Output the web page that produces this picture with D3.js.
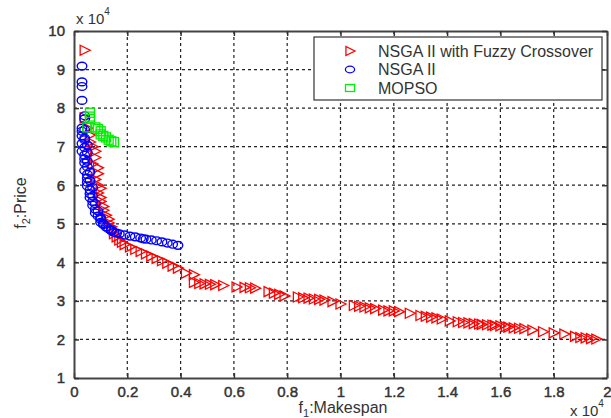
<!DOCTYPE html>
<html><head><meta charset="utf-8">
<script src="https://cdn.jsdelivr.net/npm/d3@7"></script>
<style>
html,body{margin:0;padding:0;background:#fff;}
svg{display:block;font-family:"Liberation Sans",Arial,sans-serif;}
</style></head>
<body><svg id="c" width="611" height="418"></svg>
<script>
// values in units of 10^4
const fuzzyPoints = [
[0.04,9.50],
[0.04,7.75],[0.05,7.48],[0.06,7.30],[0.06,7.12],[0.07,7.00],[0.08,6.88],[0.08,6.72],[0.07,6.55],[0.09,6.45],[0.09,6.30],[0.08,6.15],[0.09,6.00],[0.10,5.92],[0.09,5.80],[0.10,5.68],[0.10,5.58],[0.11,5.45],[0.11,5.35],[0.12,5.22],[0.13,5.12],[0.13,5.02],[0.14,4.92],[0.15,4.82],[0.15,4.74],[0.16,4.66],[0.17,4.58],[0.18,4.52],[0.19,4.46],[0.21,4.40],[0.23,4.34],[0.25,4.28],[0.27,4.22],[0.29,4.16],[0.31,4.10],[0.33,4.04],[0.35,3.98],[0.37,3.90],[0.39,3.85],[0.42,3.72],[0.45,3.68],[0.45,3.48],[0.47,3.45],[0.49,3.44],[0.51,3.43],[0.53,3.42],[0.56,3.40],[0.61,3.36],[0.64,3.35],[0.66,3.34],[0.68,3.33],[0.73,3.24],[0.75,3.20],[0.77,3.17],[0.79,3.13],[0.84,3.10],[0.86,3.08],[0.88,3.07],[0.90,3.05],[0.92,3.04],[0.94,3.02],[0.97,2.98],[1.00,2.92],[1.05,2.88],[1.07,2.86],[1.09,2.84],[1.11,2.82],[1.13,2.80],[1.16,2.76],[1.18,2.74],[1.20,2.74],[1.22,2.72],[1.26,2.68],[1.30,2.62],[1.32,2.60],[1.34,2.58],[1.36,2.56],[1.38,2.53],[1.41,2.48],[1.44,2.46],[1.46,2.44],[1.48,2.43],[1.50,2.41],[1.52,2.40],[1.53,2.39],[1.55,2.38],[1.57,2.37],[1.58,2.36],[1.60,2.35],[1.62,2.33],[1.63,2.32],[1.65,2.30],[1.67,2.29],[1.69,2.28],[1.72,2.24],[1.76,2.20],[1.80,2.17],[1.84,2.14],[1.88,2.08],[1.90,2.05],[1.92,2.04],[1.94,2.02],[1.96,2.01]
];
const nsgaPoints = [
[0.03,9.09],[0.03,8.68],[0.03,8.56],[0.03,8.20],[0.04,7.80],[0.04,7.72],[0.03,7.48],[0.04,7.44],[0.03,7.40],[0.03,7.28],[0.04,7.22],[0.04,7.18],[0.03,7.08],[0.05,7.04],[0.04,6.98],[0.03,6.88],[0.05,6.84],[0.04,6.78],[0.04,6.68],[0.05,6.62],[0.04,6.58],[0.05,6.48],[0.04,6.38],[0.06,6.34],[0.05,6.28],[0.05,6.18],[0.06,6.12],[0.05,6.08],[0.05,5.98],[0.07,5.94],[0.06,5.88],[0.06,5.78],[0.07,5.72],[0.06,5.68],[0.07,5.58],[0.08,5.52],[0.07,5.48],[0.08,5.38],[0.09,5.33],[0.08,5.28],[0.09,5.20],[0.10,5.16],[0.10,5.12],[0.10,5.04],[0.11,5.01],[0.11,4.98],[0.12,4.92],[0.13,4.87],[0.14,4.84],[0.14,4.82],[0.15,4.78],[0.16,4.76],[0.17,4.74],[0.19,4.71],[0.21,4.68],[0.23,4.66],[0.25,4.63],[0.26,4.61],[0.27,4.60],[0.29,4.58],[0.31,4.56],[0.33,4.53],[0.35,4.50],[0.37,4.47],[0.39,4.44]
];
const mopsoPoints = [
[0.06,7.88],[0.06,7.78],[0.06,7.72],[0.05,7.50],[0.08,7.50],[0.09,7.46],[0.10,7.40],[0.10,7.32],[0.11,7.28],[0.12,7.24],[0.13,7.18],[0.14,7.14],[0.15,7.12]
];
const seriesNames = ["NSGA II with Fuzzy Crossover","NSGA II","MOPSO"];
const seriesColors = ["#ff0000","#0000ff","#00ee00"];
const xTicks = [0,0.2,0.4,0.6,0.8,1,1.2,1.4,1.6,1.8,2];
const yTicks = [1,2,3,4,5,6,7,8,9,10];

const svg = d3.select("#c");
const L=74, R=607, T=31, B=378;
const x = d3.scaleLinear().domain([0,2]).range([L,R]);
const y = d3.scaleLinear().domain([1,10]).range([B,T]);

// grid
const grid = svg.append("g").attr("stroke","#222").attr("stroke-width",1.2).attr("stroke-dasharray","3,3");
xTicks.slice(1,-1).forEach(t=>grid.append("line").attr("x1",x(t)).attr("x2",x(t)).attr("y1",T).attr("y2",B));
yTicks.slice(1,-1).forEach(t=>grid.append("line").attr("x1",L).attr("x2",R).attr("y1",y(t)).attr("y2",y(t)));

// axes
const fmtX = d=> d===0||d===1||d===2 ? String(d) : d3.format(".1f")(d);
const axB = svg.append("g").attr("transform",`translate(0,${B})`)
  .call(d3.axisBottom(x).tickValues(xTicks).tickSizeInner(-5).tickSizeOuter(0).tickPadding(8).tickFormat(fmtX));
const axT = svg.append("g").attr("transform",`translate(0,${T})`)
  .call(d3.axisTop(x).tickValues(xTicks).tickSizeInner(-5).tickSizeOuter(0).tickFormat(""));
const axLft = svg.append("g").attr("transform",`translate(${L},0)`)
  .call(d3.axisLeft(y).tickValues(yTicks).tickSizeInner(-5).tickSizeOuter(0).tickPadding(9).tickFormat(d3.format("d")));
const axRt = svg.append("g").attr("transform",`translate(${R},0)`)
  .call(d3.axisRight(y).tickValues(yTicks).tickSizeInner(-5).tickSizeOuter(0).tickFormat(""));
[axB,axT,axLft,axRt].forEach(a=>{
  a.select(".domain").attr("stroke","#444").attr("stroke-width",2);
  a.selectAll(".tick line").attr("stroke","#333").attr("stroke-width",1.5);
  a.selectAll("text").attr("font-size",15).attr("fill","#333").attr("stroke","#333").attr("stroke-width",0.45)
   .attr("font-family","Liberation Sans, Arial, sans-serif");
});

// markers
function triPath(cx,cy,s){return `M${cx-s*0.45},${cy-s*0.5}L${cx+s*0.55},${cy}L${cx-s*0.45},${cy+s*0.5}Z`;}
const marks = svg.append("g");
marks.append("g").selectAll("path").data(fuzzyPoints).join("path")
  .attr("d",d=>triPath(x(d[0]),y(d[1]),10)).attr("fill","none").attr("stroke",seriesColors[0]).attr("stroke-width",1.3);
marks.append("g").selectAll("ellipse").data(nsgaPoints).join("ellipse")
  .attr("cx",d=>x(d[0])).attr("cy",d=>y(d[1])).attr("rx",4.8).attr("ry",3.9)
  .attr("fill","none").attr("stroke",seriesColors[1]).attr("stroke-width",1.4);
marks.append("g").selectAll("rect").data(mopsoPoints).join("rect")
  .attr("x",d=>x(d[0])-4.5).attr("y",d=>y(d[1])-4.5).attr("width",9).attr("height",9)
  .attr("fill","none").attr("stroke",seriesColors[2]).attr("stroke-width",1.3);

// legend
const lg = svg.append("g");
lg.append("rect").attr("x",314).attr("y",37).attr("width",288).attr("height",63)
  .attr("fill","#fff").attr("stroke","#333").attr("stroke-width",1.2);
const rowsY=[51,69.5,88];
seriesNames.forEach((n,i)=>{
  const cy=rowsY[i], cx=350;
  if(i===0) lg.append("path").attr("d",triPath(cx,cy,9)).attr("fill","none").attr("stroke",seriesColors[0]).attr("stroke-width",1.3);
  if(i===1) lg.append("ellipse").attr("cx",cx).attr("cy",cy).attr("rx",4.6).attr("ry",3.3).attr("fill","none").attr("stroke",seriesColors[1]).attr("stroke-width",1.3);
  if(i===2) lg.append("rect").attr("x",cx-4.5).attr("y",cy-3.5).attr("width",9).attr("height",7).attr("fill","none").attr("stroke",seriesColors[2]).attr("stroke-width",1.3);
  lg.append("text").attr("x",378).attr("y",cy+5.5).attr("font-size",16).attr("fill","#333").text(n);
});

// exponent labels
const e1 = svg.append("text").attr("x",76).attr("y",24).attr("font-size",15).attr("fill","#333");
e1.append("tspan").text("x 10");
e1.append("tspan").attr("dy",-9).attr("font-size",10).text("4");
const e2 = svg.append("text").attr("x",570).attr("y",416).attr("font-size",15).attr("fill","#333");
e2.append("tspan").text("x 10");
e2.append("tspan").attr("dy",-9).attr("font-size",10).text("4");

// axis titles
const xl = svg.append("text").attr("x",343).attr("y",413).attr("text-anchor","middle").attr("font-size",16).attr("fill","#333");
xl.append("tspan").text("f");
xl.append("tspan").attr("dy",4).attr("font-size",11).text("1");
xl.append("tspan").attr("dy",-4).text(":Makespan");
const yl = svg.append("text").attr("transform","translate(26,203) rotate(-90)").attr("text-anchor","middle").attr("font-size",16).attr("fill","#333");
yl.append("tspan").text("f");
yl.append("tspan").attr("dy",4).attr("font-size",11).text("2");
yl.append("tspan").attr("dy",-4).text(":Price");
</script></body></html>
